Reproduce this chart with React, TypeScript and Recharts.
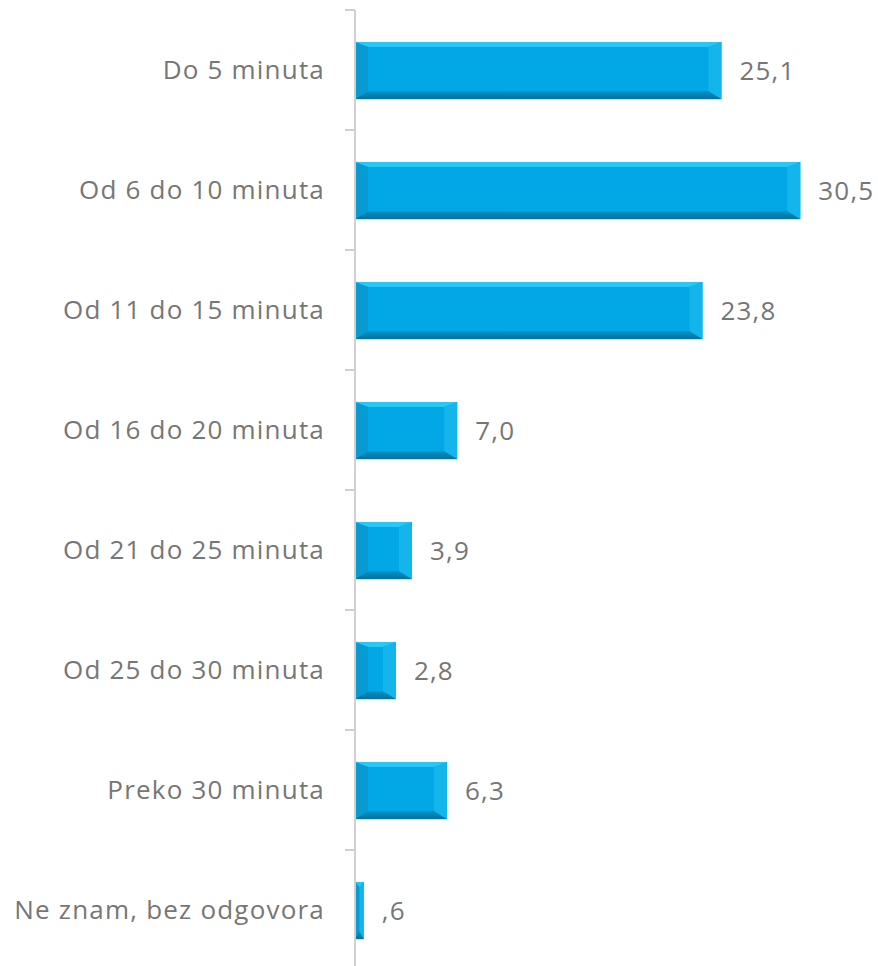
import { BarChart, Bar, XAxis, YAxis, LabelList } from "recharts";

const categories = [
  "Do 5 minuta",
  "Od 6 do 10 minuta",
  "Od 11 do 15 minuta",
  "Od 16 do 20 minuta",
  "Od 21 do 25 minuta",
  "Od 25 do 30 minuta",
  "Preko 30 minuta",
  "Ne znam, bez odgovora",
];
const values = [25.1, 30.5, 23.8, 7.0, 3.9, 2.8, 6.3, 0.6];

const data = categories.map((name, i) => ({ name, value: values[i] }));

const W = 878;
const H = 980;
const MARGIN = { top: 10, right: 12, bottom: 10, left: 0 };
const AXIS_W = 355;
const BAND = (H - MARGIN.top - MARGIN.bottom) / categories.length;

const FONT = "'Open Sans', sans-serif";
const TEXT = "#767676";
const AXIS = "#d0d0d0";

const formatValue = (v: number) => v.toFixed(1).replace(".", ",").replace(/^0,/, ",");

function CategoryTick(props: any) {
  const { y, payload, index } = props;
  const ax = MARGIN.left + AXIS_W;
  return (
    <g>
      <line x1={ax - 10} x2={ax} y1={y - BAND / 2} y2={y - BAND / 2} stroke={AXIS} strokeWidth={2} />
      {index === categories.length - 1 && (
        <line x1={ax - 10} x2={ax} y1={y + BAND / 2} y2={y + BAND / 2} stroke={AXIS} strokeWidth={2} />
      )}
      <text
        x={ax - 30}
        y={y}
        dy="0.35em"
        textAnchor="end"
        fill={TEXT}
        fontSize={26}
        letterSpacing={1.2}
        fontFamily={FONT}
      >
        {payload.value}
      </text>
    </g>
  );
}

function BevelBar(props: any) {
  const { x, y, width, height } = props;
  if (!width || width <= 0) return null;
  const bx = Math.min(13, width / 2);
  const bt = Math.min(5, height / 2);
  const bb = Math.min(8, height / 2);
  const r = x + width;
  const b = y + height;
  return (
    <g>
      <defs>
        <linearGradient id="bevelBottom" x1="0" y1="0" x2="0" y2="1">
          <stop offset="0%" stopColor="#0594c8" />
          <stop offset="100%" stopColor="#0a6f98" />
        </linearGradient>
      </defs>
      <rect x={x} y={y} width={width} height={height} fill="#02a8e6" />
      <polygon points={`${x},${y} ${r},${y} ${r - bx},${y + bt} ${x + bx},${y + bt}`} fill="#25c8f7" />
      <polygon points={`${x},${b} ${r},${b} ${r - bx},${b - bb} ${x + bx},${b - bb}`} fill="url(#bevelBottom)" />
      <polygon points={`${x},${y} ${x + bx},${y + bt} ${x + bx},${b - bb} ${x},${b}`} fill="#0a9ad2" />
      <polygon points={`${r},${y} ${r - bx},${y + bt} ${r - bx},${b - bb} ${r},${b}`} fill="#14b5ea" />
      <line x1={x} y1={b + 0.5} x2={r} y2={b + 0.5} stroke="#d6dde2" strokeWidth={1} />
    </g>
  );
}

export default function App() {
  return (
    <div style={{ position: "absolute", left: 0, top: 0, width: W, height: 966, overflow: "hidden", background: "#fff" }}>
      <BarChart
        width={W}
        height={H}
        data={data}
        layout="vertical"
        margin={MARGIN}
        barSize={57}
      >
        <XAxis type="number" domain={[0, 35]} hide />
        <YAxis
          type="category"
          dataKey="name"
          width={AXIS_W}
          axisLine={{ stroke: AXIS, strokeWidth: 2 }}
          tickLine={false}
          tick={<CategoryTick />}
          interval={0}
        />
        <Bar dataKey="value" shape={<BevelBar />} isAnimationActive={false}>
          <LabelList
            dataKey="value"
            position="right"
            offset={18}
            formatter={(v: any) => formatValue(Number(v))}
            style={{ fill: TEXT, fontSize: 26, letterSpacing: 1.2, fontFamily: FONT }}
          />
        </Bar>
      </BarChart>
    </div>
  );
}
